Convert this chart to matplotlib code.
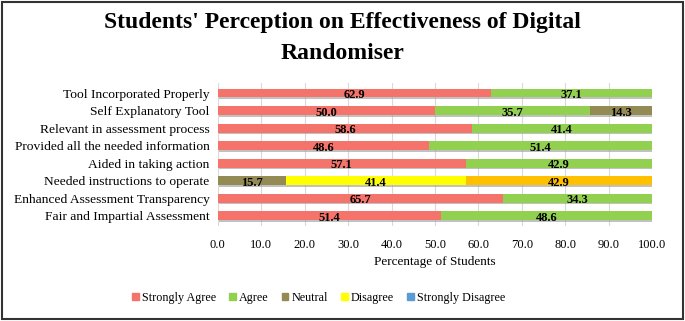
import matplotlib
matplotlib.use("Agg")
from matplotlib import pyplot as plt
from matplotlib.patches import Patch
import matplotlib.patheffects as pe
import numpy as np

plt.rcParams['font.family'] = ['Liberation Serif', 'DejaVu Serif']

categories = ["Tool Incorporated Properly", "Self Explanatory Tool",
              "Relevant in assessment process", "Provided all the needed information",
              "Aided in taking action", "Needed instructions to operate",
              "Enhanced Assessment Transparency", "Fair and Impartial Assessment"]
strongly_agree = [62.9, 50.0, 58.6, 48.6, 57.1, 0, 65.7, 51.4]
agree = [37.1, 35.7, 41.4, 51.4, 42.9, 0, 34.3, 48.6]
neutral = [0, 14.3, 0, 0, 0, 15.7, 0, 0]
disagree = [0, 0, 0, 0, 0, 41.4, 0, 0]
other = [0, 0, 0, 0, 0, 42.9, 0, 0]   # orange segment, not in legend
strongly_disagree = [0, 0, 0, 0, 0, 0, 0, 0]

series = [("Strongly Agree", strongly_agree, "#F4736A"),
          ("Agree", agree, "#92D050"),
          ("Neutral", neutral, "#948A54"),
          ("Disagree", disagree, "#FFFF00"),
          (None, other, "#FFC000"),
          ("Strongly Disagree", strongly_disagree, "#5B9BD5")]

fig = plt.figure(figsize=(6.85, 3.21), dpi=100)
ax = fig.add_axes([0.318, 0.295, 0.634, 0.445])

y = np.arange(len(categories))[::-1]
left = np.zeros(len(categories))
shadow = [pe.SimplePatchShadow(offset=(0.8, -1.2), shadow_rgbFace='#999999', alpha=0.6), pe.Normal()]
handles = []
for name, vals, col in series:
    vals = np.array(vals)
    ax.barh(y, vals, left=left, height=0.5, color=col, path_effects=shadow, zorder=3)
    for yi, l, v in zip(y, left, vals):
        if v > 0:
            ax.text(l + v / 2, yi - 0.12, f"{v:.1f}", ha='center', va='center',
                    fontsize=9, fontweight='bold', zorder=4)
    left = left + vals
    if name:
        handles.append(Patch(color=col, label=name))

ax.set_xlim(0, 100)
ax.set_ylim(-0.6, len(categories) - 0.45)
ax.set_xticks(np.arange(0, 101, 10))
ax.set_xticklabels([f"{v:.1f}" for v in np.arange(0, 101, 10)], fontsize=9)
ax.set_yticks(y)
ax.set_yticklabels(categories, fontsize=9.7)
ax.tick_params(length=0, pad=6)
ax.tick_params(axis='x', pad=9)
ax.grid(axis='x', color='#D9D9D9', linewidth=0.8, zorder=0)
for s in ax.spines.values():
    s.set_visible(False)
ax.set_xlabel("Percentage of Students", fontsize=9.5, labelpad=4)

fig.suptitle("Students' Perception on Effectiveness of Digital\nRandomiser",
             fontsize=17, fontweight='bold', y=0.962, linespacing=1.6)

fig.legend(handles=handles, loc='center',
           bbox_to_anchor=(0.465, 0.072), ncol=5, frameon=False, fontsize=8.7,
           handlelength=0.55, handleheight=0.55, handletextpad=0.25, columnspacing=1.1)

fig.patches.append(plt.Rectangle((0.003, 0.005), 0.994, 0.99, transform=fig.transFigure,
                                 fill=False, edgecolor='#333333', linewidth=1.5))

fig.savefig("out.png", dpi=100)
